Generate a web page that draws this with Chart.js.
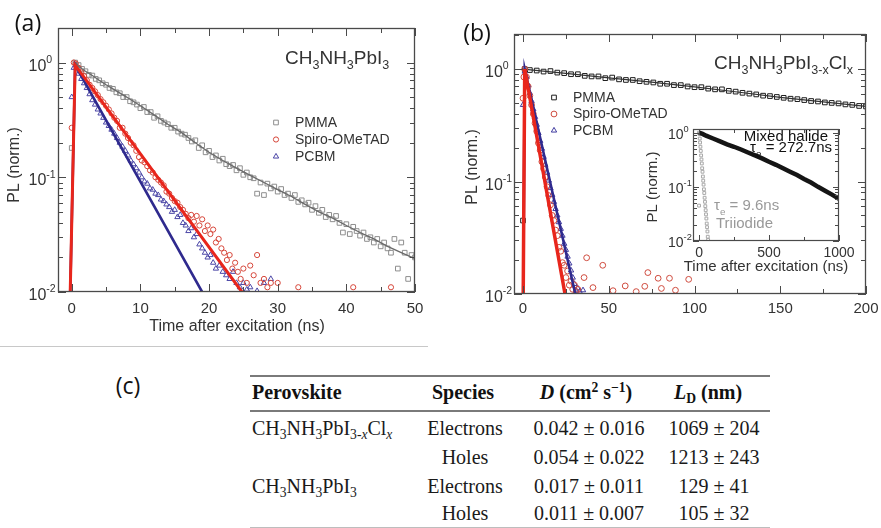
<!DOCTYPE html>
<html>
<head>
<meta charset="utf-8">
<script src="https://cdn.jsdelivr.net/npm/chart.js@4.4.1/dist/chart.umd.min.js"></script>
<style>
  html, body { margin: 0; padding: 0; background: #fff; }
  body { width: 881px; height: 528px; position: relative; overflow: hidden; }
  canvas { position: absolute; }
  .panel { position: absolute; font-family: "Open Sans", "Noto Sans", sans-serif; font-size: 23px; color: #111;
           line-height: 1; transform: translate(-50%, -50%); white-space: nowrap; }
  .rule { position: absolute; background: #7a7a7a; }
  .cell { position: absolute; font-family: "Liberation Serif", "Times New Roman", serif; font-size: 20px;
          color: #1a1a1a; line-height: 24px; height: 24px; white-space: nowrap; }
  .cell sub { font-size: 0.68em; vertical-align: -0.32em; line-height: 0; }
  .cell sup { font-size: 0.68em; vertical-align: 0.5em; line-height: 0; }
  .head { font-weight: bold; color: #111; }
</style>
</head>
<body>
<canvas id="chartA" width="440" height="345" style="left:0;top:0;width:440px;height:345px"></canvas>
<canvas id="chartB" width="441" height="345" style="left:440px;top:0;width:441px;height:345px"></canvas>
<canvas id="chartInset" width="225" height="160" style="left:630px;top:118px;width:225px;height:160px"></canvas>

<script>
// ---------- panel (a): CH3NH3PbI3, PL decay, 0-50 ns ----------
const aPmmaT = [0,0.5,1,1.5,2,2.5,3,3.5,4,4.5,5,5.5,6,6.5,7,7.5,8,8.5,9,9.5,10,10.5,11,11.5,12,12.5,13,13.5,14,14.5,15,15.5,16,16.5,17,17.5,18,18.5,19,19.5,20,20.5,21,21.5,22,22.5,23,23.5,24,24.5,25,25.5,26,26.5,27,27.5,28,28.5,29,29.5,30,30.5,31,31.5,32,32.5,33,33.5,34,34.5,35,35.5,36,36.5,37,37.5,38,38.5,39,39.5,40,40.5,41,41.5,42,42.5,43,43.5,44,44.5,45,45.5,46,46.5,47,47.5,48,48.5,49,49.5,50];
const aPmmaV = [0.18,1.0,0.95,0.88,0.84,0.78,0.77,0.72,0.70,0.66,0.64,0.60,0.59,0.55,0.54,0.50,0.50,0.46,0.45,0.43,0.40,0.41,0.37,0.37,0.33,0.34,0.31,0.30,0.29,0.27,0.27,0.25,0.24,0.235,0.22,0.205,0.21,0.18,0.19,0.165,0.17,0.15,0.155,0.14,0.145,0.13,0.125,0.128,0.115,0.12,0.105,0.11,0.1,0.098,0.072,0.09,0.07,0.088,0.08,0.083,0.075,0.079,0.07,0.072,0.066,0.07,0.061,0.063,0.058,0.06,0.052,0.056,0.049,0.052,0.045,0.047,0.043,0.046,0.04,0.033,0.039,0.032,0.037,0.034,0.031,0.033,0.029,0.03,0.027,0.029,0.025,0.027,0.024,0.022,0.029,0.016,0.027,0.022,0.013,0.021,0.02];
const aPmmaFitT = [0.5,1,2,3,4,5,6,8,10,12,14,16,18,20,22,24,26,28,30,32,34,36,38,40,42,44,46,48,50];
const aPmmaFitV = [1.0,0.93,0.84,0.77,0.70,0.64,0.59,0.50,0.42,0.35,0.29,0.245,0.20,0.165,0.14,0.12,0.104,0.09,0.078,0.068,0.058,0.05,0.044,0.038,0.033,0.029,0.025,0.022,0.0195];

const aSpiroT = [0,0.3,0.6,1.0,1.4,1.8,2.2,2.6,3.0,3.4,3.8,4.2,4.6,5.0,5.4,5.8,6.2,6.6,7.0,7.4,7.8,8.2,8.6,9.0,9.4,9.8,10.2,10.6,11.0,11.4,11.8,12.2,12.6,13.0,13.4,13.8,14.2,14.6,15.0,15.4,15.8,16.2,16.6,17.0,17.4,17.8,18.2,18.6,19.0,19.4,19.8,20.2,20.6,21.0,21.4,21.8,22.2,22.6,23.0,23.4,23.8,24.2,24.6,25.0,25.5,26.0,26.5,27.0,27.5,28.0,28.5,29.0,30.0,33.0,41.0,46.5];
const aSpiroV = [0.27,1.0,0.98,0.9,0.82,0.76,0.7,0.64,0.6,0.56,0.52,0.48,0.45,0.42,0.39,0.36,0.33,0.31,0.27,0.27,0.24,0.22,0.2,0.19,0.17,0.15,0.14,0.135,0.125,0.115,0.11,0.1,0.095,0.09,0.085,0.075,0.072,0.066,0.062,0.06,0.055,0.052,0.048,0.044,0.047,0.041,0.046,0.038,0.043,0.034,0.038,0.032,0.035,0.027,0.029,0.024,0.022,0.019,0.021,0.016,0.018,0.015,0.013,0.016,0.012,0.017,0.014,0.021,0.012,0.013,0.011,0.012,0.012,0.011,0.011,0.011];
const aSpiroFitT = [-0.3,0.5,24.8];
const aSpiroFitV = [0.006,0.95,0.01];

const aPcbmT = [0,0.3,0.6,1.0,1.4,1.8,2.2,2.6,3.0,3.4,3.8,4.2,4.6,5.0,5.4,5.8,6.2,6.6,7.0,7.4,7.8,8.2,8.6,9.0,9.4,9.8,10.2,10.6,11.0,11.4,11.8,12.2,12.6,13.0,13.4,13.8,14.2,14.6,15.0,15.4,15.8,16.2,16.6,17.0,17.4,17.8,18.2,18.6,19.0,19.4,19.8,20.2,20.6,21.0,21.5,22.0,22.5,23.0,23.5,24.0,24.5,25.0,25.5,26.0,27.0,28.0,29.0];
const aPcbmV = [0.5,0.9,0.95,0.8,0.72,0.66,0.6,0.53,0.47,0.43,0.39,0.36,0.33,0.3,0.28,0.26,0.24,0.22,0.2,0.185,0.17,0.155,0.14,0.13,0.12,0.11,0.1,0.092,0.088,0.08,0.078,0.072,0.07,0.064,0.062,0.058,0.055,0.05,0.052,0.045,0.047,0.04,0.038,0.034,0.036,0.03,0.032,0.026,0.024,0.022,0.02,0.021,0.018,0.016,0.017,0.015,0.014,0.013,0.015,0.012,0.011,0.012,0.0105,0.011,0.0102,0.012,0.013];
const aPcbmFitT = [-0.3,0.5,19.0];
const aPcbmFitV = [0.006,0.95,0.01];

// ---------- panel (b): CH3NH3PbI3-xClx, PL decay, 0-200 ns ----------
const bPmmaT = [0,1,4,8,12,16,20,24,28,32,36,40,44,48,52,56,60,64,68,72,76,80,84,88,92,96,100,104,108,112,116,120,124,128,132,136,140,144,148,152,156,160,164,168,172,176,180,184,188,192,196,200];
const bPmmaV = [0.045,1.0,0.98,0.97,0.95,0.96,0.93,0.92,0.9,0.9,0.87,0.86,0.86,0.83,0.84,0.81,0.8,0.8,0.78,0.77,0.76,0.74,0.74,0.72,0.72,0.7,0.69,0.69,0.67,0.66,0.66,0.64,0.63,0.615,0.605,0.595,0.58,0.575,0.565,0.555,0.545,0.54,0.53,0.52,0.515,0.505,0.5,0.495,0.485,0.48,0.47,0.465];
const bPmmaFitT = [0,25,50,75,100,125,150,175,200];
const bPmmaFitV = [1.0,0.915,0.835,0.765,0.695,0.625,0.56,0.51,0.465];

const bSpiroT = [0,0.5,1,2,3,4,5,6,7,8,9,10,11,12,13,14,15,16,17,18,19,20,21,22,23,24,25,26,27,28,29,30,31,32,35.6,37.1,40.8,46.5,52.5,59.6,66,71,72.8,78.8,80.7,85.4,88.9,96.6];
const bSpiroV = [0.55,0.85,1.0,0.85,0.7,0.58,0.48,0.4,0.33,0.28,0.22,0.19,0.15,0.13,0.11,0.09,0.075,0.062,0.05,0.045,0.037,0.033,0.026,0.024,0.019,0.018,0.014,0.016,0.012,0.013,0.011,0.012,0.0105,0.011,0.014,0.021,0.0114,0.018,0.0107,0.0118,0.0105,0.0117,0.0155,0.0138,0.0112,0.0138,0.0108,0.0135];
const bSpiroFitT = [0,1,24.5];
const bSpiroFitV = [0.005,1.0,0.01];

const bPcbmT = [0,1,2,3,4,5,6,7,8,9,10,11,12,13,14,15,16,17,18,19,20,21,22,23,24,25,26,27,28,29,30,31,32,33,35];
const bPcbmV = [0.48,0.95,0.85,0.72,0.61,0.52,0.44,0.376,0.32,0.27,0.23,0.196,0.166,0.141,0.12,0.102,0.0875,0.076,0.066,0.057,0.05,0.0435,0.038,0.033,0.028,0.0247,0.0215,0.0187,0.0162,0.014,0.0123,0.0107,0.0112,0.0105,0.0108];
const bPcbmFitT = [0,1,30.5];
const bPcbmFitV = [0.005,1.0,0.01];

// ---------- inset: mixed halide vs triiodide, 0-1000 ns ----------
const mixedT = [0,25,50,100,150,200,250,300,350,400,450,500,550,600,650,700,750,800,850,900,950,1000];
const mixedV = [1.0,0.95,0.88,0.78,0.69,0.61,0.55,0.49,0.43,0.38,0.335,0.29,0.255,0.22,0.19,0.165,0.14,0.12,0.1,0.085,0.072,0.06];
const triT = [0,0,2.5,5,7.5,10,12.5,15,17.5,20,22.5,25,27.5,30,32.5,35,37.5,40,42.5,45,47.5,50,52.5,55,57.5,60,62.5,65];
const triV = [0.045,1.0,0.95,0.78,0.66,0.55,0.46,0.38,0.32,0.27,0.22,0.19,0.155,0.13,0.11,0.09,0.077,0.063,0.053,0.044,0.037,0.031,0.026,0.021,0.018,0.015,0.012,0.0105];

// ---------- axis ticks ----------
const xTicksA = [0,10,20,30,40,50];
const xMinorA = [5,15,25,35,45];
const xTicksB = [0,50,100,150,200];
const xMinorB = [25,75,125,175];
const xTicksInset = [0,500,1000];
const xMinorInset = [250,750];
const yTicksLog = [0.01,0.1,1];
const yTickExp = ['-2','-1','0'];
const yMinorLog = [0.02,0.03,0.04,0.05,0.06,0.07,0.08,0.09,0.2,0.3,0.4,0.5,0.6,0.7,0.8,0.9,2];

// ---------- table (c) ----------
const tableHead = ['Perovskite', 'Species', '<i>D</i> (cm<sup>2</sup> s<sup>\u22121</sup>)', '<i>L</i><sub>D</sub> (nm)'];
const perovskites = ['CH<sub>3</sub>NH<sub>3</sub>PbI<sub>3-<i>x</i></sub>Cl<sub><i>x</i></sub>', '', 'CH<sub>3</sub>NH<sub>3</sub>PbI<sub>3</sub>', ''];
const species = ['Electrons', 'Holes', 'Electrons', 'Holes'];
const diffusion = ['0.042 \u00b1 0.016', '0.054 \u00b1 0.022', '0.017 \u00b1 0.011', '0.011 \u00b1 0.007'];
const diffLength = ['1069 \u00b1 204', '1213 \u00b1 243', '129 \u00b1 41', '105 \u00b1 32'];

// =====================================================================
const FONT = '"Liberation Sans", Arial, Helvetica, sans-serif';
const TXT = '#333';
const pts = (xs, ys) => xs.map((x, i) => ({ x, y: ys[i] }));

function markers(t, v, style, r, color, order) {
  return { data: pts(t, v), showLine: false, pointStyle: style, pointRadius: r, pointHoverRadius: r,
           pointBorderWidth: 1, pointBorderColor: color, pointBackgroundColor: 'rgba(0,0,0,0)',
           borderColor: color, backgroundColor: 'rgba(0,0,0,0)', order };
}
function fitLine(t, v, color, w, order) {
  return { data: pts(t, v), showLine: true, pointRadius: 0, pointHoverRadius: 0, borderColor: color,
           backgroundColor: color, borderWidth: w, tension: 0, order, clip: 0 };
}

// text with sub/superscripts; parts = [[text, kind]] kind 0 normal, 1 sub, 2 sup
function drawRich(ctx, parts, x, y, size, align, color) {
  const f = k => (k ? size * 0.66 : size) + 'px ' + FONT;
  let w = 0;
  parts.forEach(([t, k]) => { ctx.font = f(k); w += ctx.measureText(t).width; });
  let cx = align === 'right' ? x - w : align === 'center' ? x - w / 2 : x;
  ctx.fillStyle = color; ctx.textAlign = 'left'; ctx.textBaseline = 'alphabetic';
  parts.forEach(([t, k]) => {
    ctx.font = f(k);
    const dy = k === 1 ? size * 0.3 : k === 2 ? -size * 0.48 : 0;
    ctx.fillText(t, cx, y + dy);
    cx += ctx.measureText(t).width;
  });
}

function drawMarker(ctx, style, x, y, r, color) {
  ctx.save(); ctx.strokeStyle = color; ctx.lineWidth = 1; ctx.beginPath();
  if (style === 'rect') { const s = r * Math.SQRT1_2; ctx.rect(x - s, y - s, 2 * s, 2 * s); }
  else if (style === 'circle') { ctx.arc(x, y, r, 0, Math.PI * 2); }
  else {
    for (let i = 0; i < 3; i++) {
      const a = i * 2 * Math.PI / 3;
      const px = x + Math.sin(a) * r, py = y - Math.cos(a) * r;
      i ? ctx.lineTo(px, py) : ctx.moveTo(px, py);
    }
    ctx.closePath();
  }
  ctx.stroke(); ctx.restore();
}

// frame, inward ticks, tick labels, axis titles, legend and notes
const framePlugin = {
  id: 'framePlugin',
  beforeDatasetsDraw(chart, args, o) {
    if (!o.fill) return;
    const a = chart.chartArea, ctx = chart.ctx;
    ctx.save(); ctx.fillStyle = o.fill;
    ctx.fillRect(a.left, a.top, a.right - a.left, a.bottom - a.top); ctx.restore();
  },
  afterDraw(chart, args, o) {
    const ctx = chart.ctx, a = chart.chartArea, xs = chart.scales.x, ys = chart.scales.y;
    ctx.save();
    ctx.strokeStyle = o.color; ctx.lineWidth = 1;
    const seg = (x1, y1, x2, y2) => { ctx.beginPath(); ctx.moveTo(x1, y1); ctx.lineTo(x2, y2); ctx.stroke(); };
    const xt = (vals, len) => vals.forEach(v => {
      const p = Math.round(xs.getPixelForValue(v)) + 0.5;
      seg(p, a.bottom, p, a.bottom - len); seg(p, a.top, p, a.top + len);
    });
    const yt = (vals, len) => vals.forEach(v => {
      if (v > ys.max) return;
      const p = Math.round(ys.getPixelForValue(v)) + 0.5;
      seg(a.left, p, a.left + len, p); seg(a.right, p, a.right - len, p);
    });
    xt(o.xMajor, o.majorLen); xt(o.xMinor, o.minorLen);
    yt(yTicksLog, o.majorLen); yt(yMinorLog, o.minorLen);
    ctx.lineWidth = o.frameWidth;
    ctx.strokeRect(a.left + 0.5, a.top + 0.5, a.right - a.left - 1, a.bottom - a.top - 1);

    // x tick labels
    ctx.fillStyle = TXT; ctx.font = o.xTickSize + 'px ' + FONT;
    ctx.textAlign = 'center'; ctx.textBaseline = 'alphabetic';
    o.xMajor.forEach(v => ctx.fillText(String(v), xs.getPixelForValue(v), o.xLabelY + o.xTickSize * 0.36));
    // y tick labels 10^n
    yTicksLog.forEach((v, i) => {
      drawRich(ctx, [['10', 0], [yTickExp[i], 2]], o.yLabelX, ys.getPixelForValue(v) + o.yLabelDy, o.yTickSize, 'left', TXT);
    });
    // titles
    ctx.fillStyle = TXT;
    if (o.xTitle) {
      ctx.font = o.titleSize + 'px ' + FONT; ctx.textAlign = 'center'; ctx.textBaseline = 'middle';
      ctx.fillText(o.xTitle, o.xTitlePos[0], o.xTitlePos[1]);
    }
    if (o.yTitle) {
      ctx.save(); ctx.translate(o.yTitlePos[0], o.yTitlePos[1]); ctx.rotate(-Math.PI / 2);
      ctx.font = o.titleSize + 'px ' + FONT; ctx.textAlign = 'center'; ctx.textBaseline = 'middle';
      ctx.fillText(o.yTitle, 0, 0); ctx.restore();
    }
    // legend
    if (o.legend) {
      const L = o.legend;
      L.rows.forEach(r => {
        drawMarker(ctx, r.style, L.markerX, r.y, r.r, r.color);
        ctx.fillStyle = TXT; ctx.font = L.size + 'px ' + FONT; ctx.textAlign = 'left'; ctx.textBaseline = 'middle';
        ctx.fillText(r.label, L.textX, r.y + 0.5);
      });
    }
    // notes
    (o.notes || []).forEach(n => drawRich(ctx, n.parts, n.x, n.y, n.size, n.align, n.color));
    ctx.restore();
  }
};

function baseOptions(pad, xr, yr, plug) {
  return {
    responsive: false, animation: false, events: [],
    layout: { padding: pad },
    plugins: { legend: { display: false }, tooltip: { enabled: false }, framePlugin: plug },
    scales: {
      x: { type: 'linear', min: xr[0], max: xr[1], display: false },
      y: { type: 'logarithmic', min: yr[0], max: yr[1], display: false }
    }
  };
}

// ----- chart (a)
new Chart(document.getElementById('chartA'), {
  type: 'scatter',
  plugins: [framePlugin],
  data: { datasets: [
    fitLine(aSpiroFitT, aSpiroFitV, '#e8261c', 3, 1),
    fitLine(aPcbmFitT, aPcbmFitV, '#2f2a8e', 2.6, 2),
    fitLine(aPmmaFitT, aPmmaFitV, '#6a6a6a', 1.3, 3),
    markers(aSpiroT, aSpiroV, 'circle', 2.6, '#d6463a', 4),
    markers(aPcbmT, aPcbmV, 'triangle', 3.1, '#4b46a6', 5),
    markers(aPmmaT, aPmmaV, 'rect', 3.3, '#8e8e8e', 6)
  ] },
  options: baseOptions({ left: 58, top: 28, right: 25, bottom: 53 }, [-2, 50], [0.01, 2.0], {
    color: '#4a4a4a', frameWidth: 1.3, majorLen: 8, minorLen: 5,
    xMajor: xTicksA, xMinor: xMinorA, xTickSize: 15, xLabelY: 308,
    yLabelX: 28.5, yLabelDy: 8, yTickSize: 16,
    titleSize: 16, xTitle: 'Time after excitation (ns)', xTitlePos: [237, 327],
    yTitle: 'PL (norm.)', yTitlePos: [15, 165],
    legend: { markerX: 276, textX: 295, size: 14, rows: [
      { y: 122.5, style: 'rect', r: 3.3, color: '#8e8e8e', label: 'PMMA' },
      { y: 139.5, style: 'circle', r: 2.6, color: '#d6463a', label: 'Spiro-OMeTAD' },
      { y: 156.5, style: 'triangle', r: 3.1, color: '#4b46a6', label: 'PCBM' }
    ] },
    notes: [ { parts: [['CH',0],['3',1],['NH',0],['3',1],['PbI',0],['3',1]], x: 285, y: 63.5, size: 19, align: 'left', color: '#333' } ]
  })
});

// ----- chart (b)
new Chart(document.getElementById('chartB'), {
  type: 'scatter',
  plugins: [framePlugin],
  data: { datasets: [
    fitLine(bSpiroFitT, bSpiroFitV, '#e8261c', 3.5, 1),
    fitLine(bPcbmFitT, bPcbmFitV, '#2f2a8e', 2.6, 2),
    markers(bSpiroT, bSpiroV, 'circle', 2.9, '#cf4b3e', 3),
    markers(bPcbmT, bPcbmV, 'triangle', 3.1, '#3f3a9f', 4),
    fitLine(bPmmaFitT, bPmmaFitV, '#333333', 1.2, 5),
    markers(bPmmaT, bPmmaV, 'rect', 3.3, '#1e1e1e', 6)
  ] },
  options: baseOptions({ left: 74, top: 34, right: 15, bottom: 51 }, [-5.25, 200], [0.01, 2.05], {
    color: '#4a4a4a', frameWidth: 1.3, majorLen: 8, minorLen: 5,
    xMajor: xTicksB, xMinor: xMinorB, xTickSize: 15, xLabelY: 308,
    yLabelX: 45, yLabelDy: 8, yTickSize: 16,
    titleSize: 16, yTitle: 'PL (norm.)', yTitlePos: [33, 167],
    legend: { markerX: 114, textX: 133, size: 14, rows: [
      { y: 97.5, style: 'rect', r: 3.3, color: '#1e1e1e', label: 'PMMA' },
      { y: 114, style: 'circle', r: 2.9, color: '#cf4b3e', label: 'Spiro-OMeTAD' },
      { y: 130.5, style: 'triangle', r: 3.1, color: '#3f3a9f', label: 'PCBM' }
    ] },
    notes: [ { parts: [['CH',0],['3',1],['NH',0],['3',1],['PbI',0],['3-x',1],['Cl',0],['x',1]], x: 274, y: 68.5, size: 19, align: 'left', color: '#333' } ]
  })
});

// ----- inset of (b)
new Chart(document.getElementById('chartInset'), {
  type: 'scatter',
  plugins: [framePlugin],
  data: { datasets: [
    fitLine(mixedT, mixedV, '#151515', 4.5, 1),
    markers(triT, triV, 'rect', 2.0, '#a8a8a8', 2)
  ] },
  options: baseOptions({ left: 63, top: 11, right: 16, bottom: 37 }, [-43, 1000], [0.01, 1.17], {
    fill: '#ffffff', color: '#4a4a4a', frameWidth: 1.2, majorLen: 6, minorLen: 4,
    xMajor: xTicksInset, xMinor: xMinorInset, xTickSize: 14, xLabelY: 133.5,
    yLabelX: 38, yLabelDy: 6, yTickSize: 14,
    titleSize: 15, xTitle: 'Time after excitation (ns)', xTitlePos: [136, 149],
    yTitle: 'PL (norm.)', yTitlePos: [23, 69],
    notes: [
      { parts: [['Mixed halide',0]], x: 198, y: 23, size: 15, align: 'right', color: '#111' },
      { parts: [['\u03c4',0],['e',1],[' = 272.7ns',0]], x: 202, y: 34, size: 15, align: 'right', color: '#111' },
      { parts: [['\u03c4',0],['e',1],[' = 9.6ns',0]], x: 84, y: 92, size: 15, align: 'left', color: '#999' },
      { parts: [['Triiodide',0]], x: 86, y: 110, size: 15, align: 'left', color: '#999' }
    ]
  })
});

// ----- panel labels, separator and table (c)
(function buildPage() {
  const add = (html, cls, style) => {
    const d = document.createElement('div'); d.className = cls; d.innerHTML = html;
    Object.assign(d.style, style); document.body.appendChild(d); return d;
  };
  add('(a)', 'panel', { left: '28px', top: '22px' });
  add('(b)', 'panel', { left: '477px', top: '32px' });
  add('(c)', 'panel', { left: '128px', top: '385px' });
  add('', 'rule', { left: '0px', top: '346px', width: '428px', height: '1px', background: '#c8c8c8' });

  add('', 'rule', { left: '250px', top: '375px', width: '520px', height: '2px' });
  add('', 'rule', { left: '250px', top: '410px', width: '520px', height: '2px' });
  add('', 'rule', { left: '250px', top: '527px', width: '520px', height: '1px', background: '#bdbdbd' });

  const cols = [ { x: 252, align: 'left' }, { x: 465, align: 'center' }, { x: 589, align: 'center' }, { x: 714, align: 'center' } ];
  const headX = [252, 463, 586, 708];
  const place = (html, col, x, yc, extra) => {
    const style = { top: (yc - 12) + 'px' };
    if (col.align === 'left') style.left = x + 'px';
    else { style.left = (x - 100) + 'px'; style.width = '200px'; style.textAlign = 'center'; }
    add(html, 'cell' + (extra || ''), style);
  };
  tableHead.forEach((h, i) => place(h, cols[i], headX[i], 392, ' head'));
  const rowY = [428, 457, 486, 513];
  rowY.forEach((y, r) => {
    if (perovskites[r]) place(perovskites[r], cols[0], cols[0].x, y);
    place(species[r], cols[1], cols[1].x, y);
    place(diffusion[r], cols[2], cols[2].x, y);
    place(diffLength[r], cols[3], cols[3].x, y);
  });
})();
</script>
</body>
</html>
